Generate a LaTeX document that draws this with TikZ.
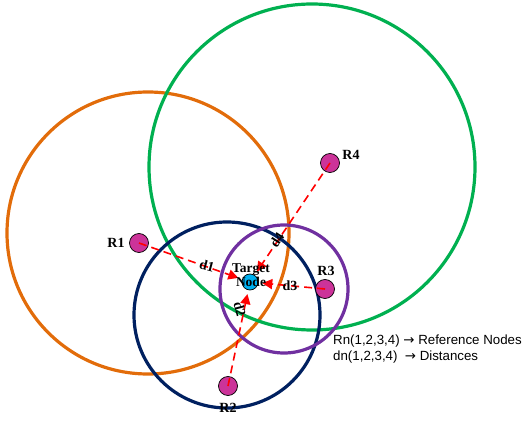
\documentclass[tikz,border=0pt]{standalone}
\usepackage{fontspec}
\setmainfont{Liberation Serif}
\newfontfamily\legendfont{Liberation Sans}
\newfontfamily\symfont{DejaVu Sans}
\usetikzlibrary{arrows.meta}
\definecolor{cOrange}{RGB}{226,108,10}
\definecolor{cGreen}{RGB}{0,176,80}
\definecolor{cNavy}{RGB}{0,32,96}
\definecolor{cPurple}{RGB}{112,48,160}
\definecolor{cMag}{RGB}{204,51,153}
\definecolor{cCyan}{RGB}{0,176,240}
\tikzset{
  ring/.style={line width=3.2pt},
  refnode/.style={circle, draw=black, line width=0.7pt, fill=cMag, minimum size=19pt, inner sep=0pt},
  tgtnode/.style={circle, draw=black, line width=0.7pt, fill=cCyan, minimum size=16pt, inner sep=0pt},
  lbl/.style={font=\bfseries\fontsize{14}{15}\selectfont, inner sep=1pt},
  dlbl/.style={font=\bfseries\fontsize{14}{15}\selectfont, inner sep=0pt},
  dline/.style={red, line width=1.6pt, dash pattern=on 8pt off 5pt, -{Triangle[length=10pt,width=10pt]}, shorten >=4pt},
  legend/.style={font=\legendfont\fontsize{13.3}{14}\selectfont, anchor=west, inner sep=0pt}
}
\begin{document}
\begin{tikzpicture}[x=1pt,y=-1pt]
\useasboundingbox (0,0) rectangle (522,438);
% circles
\draw[ring, cOrange] (148,233) circle (141);
\draw[ring, cGreen] (312,167) circle (163);
\draw[ring, cNavy] (227,315) circle (93);
\draw[ring, cPurple] (284,289) circle (64);
% nodes
\node[refnode] (R1) at (139,243) {};
\node[refnode] (R2) at (228,386) {};
\node[refnode] (R3) at (325,289) {};
\node[refnode] (R4) at (330,163) {};
\node[tgtnode] (T) at (250,282) {};
% labels
\node[lbl] (lR1) at (116,243) {R1};
\node[lbl] (lR2) at (228,408) {R2};
\node[lbl] (lR3) at (326,271) {R3};
\node[lbl] (lR4) at (351,155) {R4};
% lines
\draw[dline] (R1.center) -- (T);
\draw[dline] (R2.center) -- (T);
\draw[dline] (R3.center) -- (T);
\draw[dline] (R4.center) -- (T);
\node[dlbl, rotate=-15] (d1) at (207,266) {d1};
\node[dlbl, rotate=-75] (d2) at (240,309) {d2};
\node[dlbl] (d3) at (290,286) {d3};
\node[dlbl, rotate=57] (d4) at (277,240) {d4};
\node[font=\bfseries\fontsize{13.5}{13.5}\selectfont, align=center, inner sep=0pt] (tl) at (251,275) {Target\\Node};
% legend
\node[legend] (L1) at (333,341) {Rn(1,2,3,4) {\symfont→} Reference Nodes};
\node[legend] (L2) at (333,357) {dn(1,2,3,4)\ \ {\symfont→} Distances};
\end{tikzpicture}
\end{document}
